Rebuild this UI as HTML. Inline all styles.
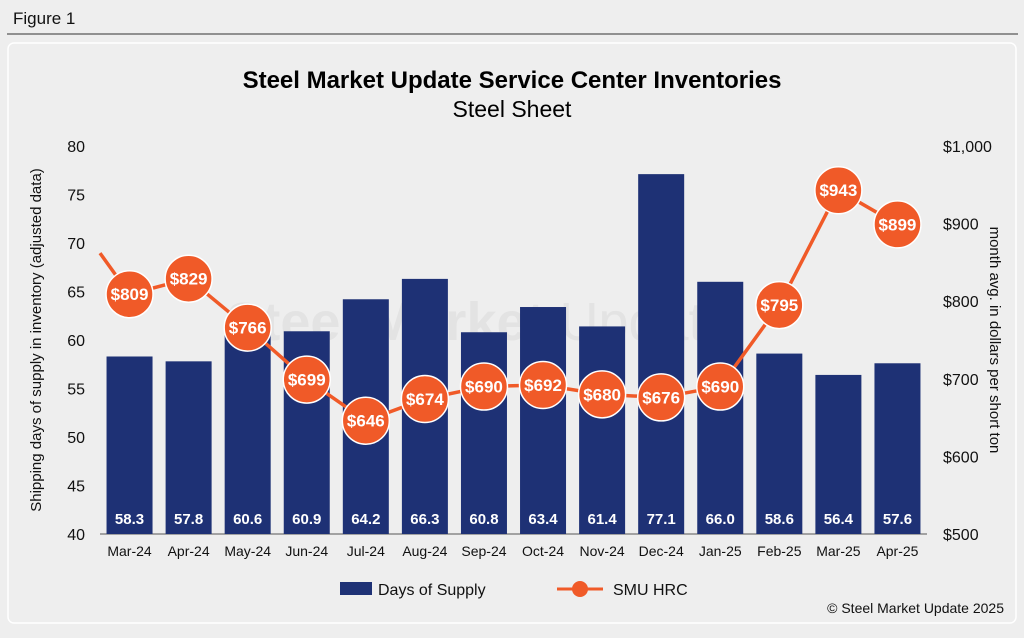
<!DOCTYPE html>
<html><head><meta charset="utf-8"><style>
body{margin:0;width:1024px;height:633px;background:#eeeeee;font-family:"Liberation Sans",sans-serif;overflow:hidden}
</style></head><body>
<svg width="1024" height="633">
<rect x="0" y="0" width="1024" height="633" fill="#eeeeee"/>
<text x="13" y="24" font-size="17" fill="#111">Figure 1</text>
<line x1="7" y1="34" x2="1018" y2="34" stroke="#333" stroke-width="1"/>
<rect x="8" y="43" width="1008" height="580" rx="6" fill="#eeeeee" stroke="#fff" stroke-width="1.5"/>
<text x="512" y="88" text-anchor="middle" font-size="24" font-weight="bold" fill="#000">Steel Market Update Service Center Inventories</text>
<text x="512" y="117" text-anchor="middle" font-size="23" fill="#000">Steel Sheet</text>
<text x="480" y="340" text-anchor="middle" font-size="54" font-weight="bold" fill="#e3e3e3">Steel Market <tspan font-weight="normal">Update</tspan></text>
<g id="axes"></g><g id="bars"></g><g id="line"></g>
<text x="41" y="340" transform="rotate(-90 41 340)" text-anchor="middle" font-size="15" fill="#111">Shipping days of supply in inventory (adjusted data)</text>
<text x="990" y="340" transform="rotate(90 990 340)" text-anchor="middle" font-size="15" fill="#111">month avg. in dollars per short ton</text>
<g><rect x="340" y="582" width="32" height="13" fill="#1e3175"/><text x="378" y="595" font-size="16" fill="#111">Days of Supply</text></g>
<g><line x1="557" y1="589" x2="603" y2="589" stroke="#f05a28" stroke-width="3"/><circle cx="580" cy="589" r="8" fill="#f05a28"/><text x="613" y="595" font-size="16" fill="#111">SMU HRC</text></g>
<text x="1004" y="613" text-anchor="end" font-size="14" fill="#111">© Steel Market Update 2025</text>
</svg>
<script>
const categories=["Mar-24","Apr-24","May-24","Jun-24","Jul-24","Aug-24","Sep-24","Oct-24","Nov-24","Dec-24","Jan-25","Feb-25","Mar-25","Apr-25"];
const daysSupply=[58.3,57.8,60.6,60.9,64.2,66.3,60.8,63.4,61.4,77.1,66.0,58.6,56.4,57.6];
const hrcPrice=[809,829,766,699,646,674,690,692,680,676,690,795,943,899];
const priorHrc=[862];
const leftTicks=[40,45,50,55,60,65,70,75,80];
const rightTicks=[500,600,700,800,900,1000];
const NS="http://www.w3.org/2000/svg";
const X0=100,X1=927,YT=146,YB=534;
const step=(X1-X0)/categories.length;
const xc=i=>X0+step*(i+0.5);
const yL=v=>YB-(v-40)/40*(YB-YT);
const yR=v=>YB-(v-500)/500*(YB-YT);
function mk(t,a,p){const e=document.createElementNS(NS,t);for(const k in a)e.setAttribute(k,a[k]);p.appendChild(e);return e;}
const ax=document.getElementById('axes'),bg=document.getElementById('bars'),lg=document.getElementById('line');
leftTicks.forEach(v=>{const t=mk('text',{x:85,y:yL(v)+6,'text-anchor':'end','font-size':16,fill:'#111'},ax);t.textContent=v;

});
rightTicks.forEach(v=>{const t=mk('text',{x:943,y:yR(v)+6,'font-size':16,fill:'#111'},ax);t.textContent='$'+v.toLocaleString('en-US');

});
mk('line',{x1:X0,y1:YB,x2:X1,y2:YB,stroke:'#555','stroke-width':1},ax);
categories.forEach((c,i)=>{const t=mk('text',{x:xc(i),y:556,'text-anchor':'middle','font-size':14,fill:'#111'},ax);t.textContent=c;


const v=daysSupply[i];const r=mk('rect',{x:xc(i)-23,y:yL(v),width:46,height:YB-yL(v),fill:'#1e3175'},bg);


const l=mk('text',{x:xc(i),y:524,'text-anchor':'middle','font-size':15,'font-weight':'bold',fill:'#fff'},bg);l.textContent=v.toFixed(1);

});
let pts=[[X0,yR(priorHrc[0])]].concat(hrcPrice.map((v,i)=>[xc(i),yR(v)]));
const pl=mk('polyline',{points:pts.map(p=>p.join(',')).join(' '),fill:'none',stroke:'#f05a28','stroke-width':3.5},lg);


hrcPrice.forEach((v,i)=>{const c=mk('circle',{cx:xc(i),cy:yR(v),r:23.5,fill:'#f05a28',stroke:'#fff','stroke-width':1.5},lg);


const t=mk('text',{x:xc(i),y:yR(v)+6,'text-anchor':'middle','font-size':17,'font-weight':'bold',fill:'#fff'},lg);t.textContent='$'+v;

});
</script>
</body></html>
